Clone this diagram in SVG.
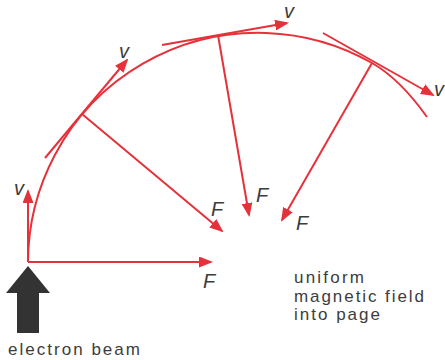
<svg xmlns="http://www.w3.org/2000/svg" width="445" height="360" viewBox="0 0 445 360">
  <style>
    .red { stroke: #e5323a; stroke-width: 2; fill: none; }
    .lbl { font-family: "Liberation Sans", Arial, sans-serif; font-style: italic; font-size: 20px; fill: #3c3c3c; }
    .txt { font-family: "Liberation Sans", Arial, sans-serif; font-size: 17px; fill: #3c3c3c; }
  </style>
  <defs>
    <marker id="ah" viewBox="0 0 14 11" refX="12" refY="5.5" markerWidth="14" markerHeight="11" markerUnits="userSpaceOnUse" orient="auto">
      <path d="M0,0 L14,5.5 L0,11 z" fill="#e5323a"/>
    </marker>
  </defs>
  <rect width="445" height="360" fill="#ffffff"/>

  <g id="connectors">
    <path id="trajectory" class="red" d="M 28 262 A 230 230 0 0 1 372 63 Q 400 79 427 117"/>
    <!-- velocity tangents -->
    <line class="red" x1="28" y1="262" x2="28" y2="191" marker-end="url(#ah)"/>
    <line class="red" x1="45" y1="158" x2="127" y2="60" marker-end="url(#ah)"/>
    <line class="red" x1="162" y1="45" x2="287" y2="23" marker-end="url(#ah)"/>
    <line class="red" x1="323" y1="33" x2="433" y2="95" marker-end="url(#ah)"/>
    <!-- force arrows -->
    <line class="red" x1="28" y1="262" x2="211" y2="262" marker-end="url(#ah)"/>
    <line class="red" x1="82" y1="114" x2="222" y2="231" marker-end="url(#ah)"/>
    <line class="red" x1="218" y1="35" x2="249" y2="215" marker-end="url(#ah)"/>
    <line class="red" x1="372" y1="63" x2="282" y2="220" marker-end="url(#ah)"/>
  </g>

  <g id="beam">
    <polygon points="28,266 50,293 39,293 39,333 17,333 17,293 6,293" fill="#333333"/>
    <text class="txt" x="8" y="355" font-size="19" textLength="132">electron beam</text>
  </g>

  <g id="labels">
    <text class="lbl" x="14" y="195">v</text>
    <text class="lbl" x="119" y="58">v</text>
    <text class="lbl" x="284" y="18">v</text>
    <text class="lbl" x="434" y="96">v</text>
    <text class="lbl" x="203" y="288">F</text>
    <text class="lbl" x="211" y="216">F</text>
    <text class="lbl" x="256" y="202">F</text>
    <text class="lbl" x="296" y="230">F</text>
  </g>

  <g id="field">
    <text class="txt" x="294" y="283" textLength="70">uniform</text>
    <text class="txt" x="294" y="302" textLength="130">magnetic field</text>
    <text class="txt" x="294" y="320" textLength="86">into page</text>
  </g>
</svg>
